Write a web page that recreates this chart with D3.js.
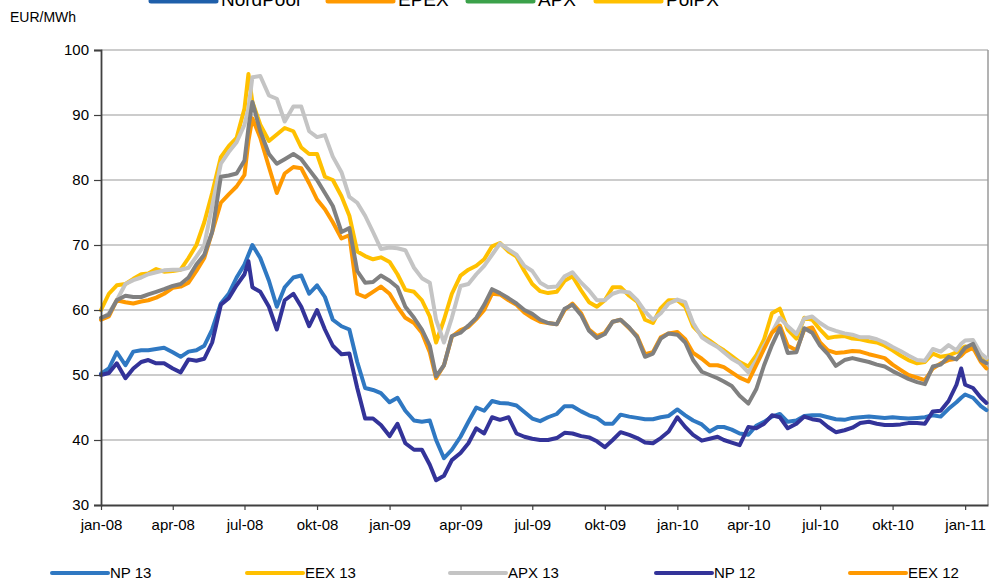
<!DOCTYPE html>
<html>
<head>
<meta charset="utf-8">
<script src="https://cdn.jsdelivr.net/npm/d3@7/dist/d3.min.js"></script>
<style>
  html, body { margin: 0; padding: 0; background: #fff; }
  svg { display: block; }
  text { font-family: "Liberation Sans", Arial, sans-serif; fill: #000; }
</style>
</head>
<body>
<svg id="chart" width="993" height="581"></svg>
<script>
// ---------- DATA ----------
const dates = [
"2008-01-01","2008-01-11","2008-01-21","2008-02-01","2008-02-11","2008-02-21","2008-03-01","2008-03-11","2008-03-21",
"2008-04-01","2008-04-11","2008-04-21","2008-05-01","2008-05-11","2008-05-21","2008-06-01","2008-06-11","2008-06-21",
"2008-07-01","2008-07-06","2008-07-11","2008-07-21","2008-08-01","2008-08-11","2008-08-21","2008-09-01","2008-09-11","2008-09-21",
"2008-10-01","2008-10-11","2008-10-21","2008-11-01","2008-11-11","2008-11-21","2008-12-01","2008-12-11","2008-12-21",
"2009-01-01","2009-01-11","2009-01-21","2009-02-01","2009-02-11","2009-02-21","2009-03-01","2009-03-11","2009-03-21",
"2009-04-01","2009-04-11","2009-04-21","2009-05-01","2009-05-11","2009-05-21","2009-06-01","2009-06-11","2009-06-21",
"2009-07-01","2009-07-11","2009-07-21","2009-08-01","2009-08-11","2009-08-21","2009-09-01","2009-09-11","2009-09-21",
"2009-10-01","2009-10-11","2009-10-21","2009-11-01","2009-11-11","2009-11-21","2009-12-01","2009-12-11","2009-12-21",
"2010-01-01","2010-01-11","2010-01-21","2010-02-01","2010-02-11","2010-02-21","2010-03-01","2010-03-11","2010-03-21",
"2010-04-01","2010-04-11","2010-04-21","2010-05-01","2010-05-11","2010-05-21","2010-06-01","2010-06-11","2010-06-21",
"2010-07-01","2010-07-11","2010-07-21","2010-08-01","2010-08-11","2010-08-21","2010-09-01","2010-09-11","2010-09-21",
"2010-10-01","2010-10-11","2010-10-21","2010-11-01","2010-11-11","2010-11-21","2010-12-01","2010-12-11","2010-12-21",
"2010-12-27","2011-01-01","2011-01-11","2011-01-21","2011-01-28"
];

const np13 = [
50.2,51.0,53.5,51.5,53.6,53.8,53.8,54.0,54.2,
53.5,52.8,53.6,53.8,54.5,57.0,61.0,62.5,65.0,
67.0,68.5,70.0,68.0,64.5,60.5,63.5,65.0,65.3,62.5,
63.8,62.0,58.5,57.5,57.0,52.0,48.0,47.7,47.2,
45.8,46.5,44.5,43.0,42.8,43.0,40.0,37.2,38.5,
40.5,42.8,45.0,44.5,46.0,45.7,45.6,45.3,44.3,
43.3,42.9,43.5,44.0,45.2,45.2,44.4,43.8,43.4,
42.5,42.5,43.9,43.6,43.4,43.2,43.2,43.5,43.7,
44.7,43.8,43.0,42.4,41.3,42.0,42.0,41.6,41.0,
40.8,42.2,42.8,43.6,44.0,42.8,43.0,43.7,43.8,
43.8,43.5,43.2,43.1,43.4,43.5,43.6,43.5,43.4,
43.5,43.4,43.3,43.4,43.5,43.8,43.6,44.8,45.8,
46.5,47.0,46.5,45.2,44.6
];

const eex13 = [
60.0,62.5,63.8,64.0,64.8,65.5,65.6,66.3,65.9,
66.0,66.2,68.0,70.0,73.5,78.0,83.5,85.2,86.5,
91.0,96.3,92.0,88.5,86.0,87.0,88.0,87.5,85.0,84.0,
84.0,80.5,80.0,77.5,74.5,69.0,68.3,67.8,68.1,
67.4,65.5,63.1,62.8,61.5,59.0,55.0,58.5,62.5,
65.3,66.2,66.8,67.8,69.8,70.3,69.0,68.2,66.0,
64.0,62.9,62.6,62.8,64.5,65.2,63.0,61.2,60.5,
61.5,63.5,63.5,62.2,61.3,58.5,58.0,60.3,61.5,
61.5,60.5,57.5,56.1,55.3,54.4,53.8,52.9,52.0,
51.3,53.0,55.5,59.5,60.2,57.0,55.6,58.8,58.5,
57.0,55.7,55.9,56.0,55.6,55.5,55.2,55.0,54.5,
53.8,53.0,52.3,51.8,52.0,53.3,52.8,53.0,53.5,
54.0,54.4,54.0,53.2,52.3
];

const apx13 = [
58.5,59.5,61.5,64.0,64.6,65.0,65.5,65.8,66.1,
66.2,66.2,66.5,68.2,70.0,76.0,82.5,84.3,85.8,
88.5,91.0,95.8,96.0,93.0,92.5,89.0,91.3,91.3,87.5,
86.6,86.9,83.6,81.2,77.4,76.5,74.5,72.0,69.4,
69.6,69.5,69.2,66.5,64.9,64.2,58.5,55.0,58.8,
63.7,64.0,65.5,66.8,68.5,70.2,69.3,68.5,66.8,
66.0,64.2,63.5,63.6,65.2,65.8,64.2,63.0,61.5,
61.5,62.5,62.9,62.7,61.5,59.8,58.5,59.5,61.0,
61.6,61.2,58.0,55.8,55.0,54.3,53.5,52.5,51.8,
50.4,52.2,54.5,56.5,58.8,57.5,56.3,58.7,59.0,
58.0,57.2,56.8,56.4,56.2,55.8,55.8,55.5,55.0,
54.3,53.7,53.0,52.3,52.2,54.0,53.6,54.6,53.8,
54.8,55.3,55.4,53.3,52.6
];

const np12 = [
50.0,50.3,51.8,49.5,51.0,52.0,52.3,51.8,51.8,
51.0,50.4,52.4,52.2,52.5,55.0,60.8,61.8,63.8,
65.5,67.5,63.5,62.8,60.5,57.0,61.5,62.5,60.5,57.5,
60.0,57.0,54.5,53.2,53.3,48.0,43.3,43.3,42.3,
40.6,42.5,39.5,38.5,38.5,36.2,33.8,34.5,36.9,
38.0,39.5,41.8,41.0,43.5,43.1,43.5,41.0,40.5,
40.2,40.0,40.0,40.3,41.1,41.0,40.6,40.4,39.8,
38.9,40.0,41.2,40.8,40.3,39.6,39.5,40.3,41.3,
43.5,42.0,40.8,39.9,40.2,40.5,40.0,39.6,39.2,
42.0,41.8,42.5,43.8,43.5,41.8,42.5,43.6,43.2,
43.0,42.0,41.2,41.5,41.9,42.6,42.8,42.5,42.3,
42.3,42.4,42.6,42.6,42.5,44.4,44.5,46.0,48.5,
51.0,48.5,48.0,46.5,45.7
];

const eex12 = [
58.5,59.0,61.5,61.2,61.0,61.3,61.5,61.9,62.5,
63.4,63.6,64.2,66.0,68.0,72.0,76.5,77.8,79.0,
80.8,86.0,89.5,86.5,82.0,78.0,81.0,82.0,81.8,79.5,
77.0,75.5,73.5,71.0,71.5,62.5,62.0,62.8,63.6,
62.5,60.5,58.8,58.0,56.5,53.5,49.5,51.5,55.9,
56.9,57.4,58.6,60.0,62.5,62.4,61.5,60.8,59.6,
58.8,58.2,58.0,57.8,60.0,61.0,59.5,57.0,56.0,
56.5,58.2,58.5,57.2,56.0,53.2,53.5,55.8,56.4,
56.6,55.5,53.4,52.5,51.5,51.5,51.2,50.4,49.6,
49.0,51.5,54.0,56.5,57.6,54.5,53.8,57.0,57.3,
55.0,53.8,53.4,53.5,53.7,53.6,53.2,52.9,52.6,
51.6,50.8,50.0,49.6,49.2,51.0,51.8,52.3,52.5,
53.0,53.6,54.2,52.0,51.0
];

const apx12 = [
58.8,59.3,61.5,62.2,62.0,62.0,62.4,62.8,63.2,
63.7,64.0,65.0,67.0,68.5,72.0,80.5,80.7,81.0,
83.0,88.0,92.0,87.5,84.0,82.5,83.2,84.0,83.2,81.6,
80.0,78.0,76.0,72.0,72.6,66.0,64.2,64.3,65.3,
64.5,63.5,60.5,58.8,57.0,54.5,49.8,51.5,56.0,
56.5,57.6,58.8,60.8,63.2,62.6,61.8,61.0,60.0,
59.4,58.5,58.0,57.8,60.2,60.8,59.2,56.8,55.7,
56.3,58.2,58.5,57.3,55.8,52.8,53.3,55.6,56.4,
56.2,55.0,52.3,50.5,50.0,49.5,49.0,48.3,46.8,
45.6,47.8,51.5,54.6,57.2,53.4,53.5,57.2,56.5,
54.5,53.2,51.4,52.3,52.6,52.3,52.0,51.6,51.3,
50.6,50.0,49.4,48.9,48.6,51.3,51.6,52.8,52.4,
53.4,54.2,54.8,52.3,51.8
];

const seriesNames = ["NP 13","EEX 13","APX 13","NP 12","EEX 12","APX 12"];
const seriesValues = [np13, eex13, apx13, np12, eex12, apx12];
const seriesColors = ["#2F78C2","#FFC000","#C4C4C4","#333399","#FF9900","#808080"];

const topLegendNames = ["NordPool","EPEX","APX","PolPX"];
const topLegendColors = ["#1F5FAA","#FF9900","#3BA14A","#FFC000"];

const xTickDates = ["2008-01-01","2008-04-01","2008-07-01","2008-10-01","2009-01-01","2009-04-01","2009-07-01","2009-10-01",
                    "2010-01-01","2010-04-01","2010-07-01","2010-10-01","2011-01-01"];
const xTickLabels = ["jan-08","apr-08","jul-08","okt-08","jan-09","apr-09","jul-09","okt-09","jan-10","apr-10","jul-10","okt-10","jan-11"];
const yTicks = [30,40,50,60,70,80,90,100];
const yUnit = "EUR/MWh";

// ---------- CHART ----------
const parse = d3.timeParse("%Y-%m-%d");
const svg = d3.select("#chart");
const L = 101, R = 988, T = 50, B = 505;

const x = d3.scaleTime().domain([parse("2008-01-01"), parse("2011-01-30")]).range([L, R]);
const y = d3.scaleLinear().domain([30, 100]).range([B, T]);

// gridlines
svg.append("g").selectAll("line").data(yTicks.filter(v => v > 30)).join("line")
  .attr("x1", L).attr("x2", R).attr("y1", d => y(d)).attr("y2", d => y(d))
  .attr("stroke", "#9a9a9a").attr("stroke-width", 1.2);

// right border
svg.append("line").attr("x1", R).attr("x2", R).attr("y1", T).attr("y2", B)
  .attr("stroke", "#9a9a9a").attr("stroke-width", 1.5);

// lines
const line = d3.line().x((d, i) => x(parse(dates[i]))).y(d => y(d)).curve(d3.curveLinear);
svg.append("g").selectAll("path").data(seriesValues).join("path")
  .attr("d", d => line(d))
  .attr("fill", "none")
  .attr("stroke", (d, i) => seriesColors[i])
  .attr("stroke-width", 4)
  .attr("stroke-linejoin", "round")
  .attr("stroke-linecap", "round");

// y axis
const yAxis = d3.axisLeft(y).tickValues(yTicks).tickSize(7).tickPadding(5);
const gy = svg.append("g").attr("transform", `translate(${L},0)`).call(yAxis);
gy.select(".domain").attr("stroke", "#404040").attr("stroke-width", 1.8);
gy.selectAll(".tick line").attr("stroke", "#404040").attr("stroke-width", 1.2);
gy.selectAll(".tick text").attr("font-size", 15).attr("font-family", "Liberation Sans, Arial, sans-serif").attr("fill", "#000");

// x axis
const xAxis = d3.axisBottom(x).tickValues(xTickDates.map(parse))
  .tickFormat((d, i) => xTickLabels[i]).tickSize(5).tickPadding(9).tickSizeOuter(0);
const gx = svg.append("g").attr("transform", `translate(0,${B})`).call(xAxis);
gx.select(".domain").attr("stroke", "#404040").attr("stroke-width", 1.8);
gx.selectAll(".tick line").attr("stroke", "#404040").attr("stroke-width", 1.2);
gx.selectAll(".tick text").attr("font-size", 15).attr("font-family", "Liberation Sans, Arial, sans-serif").attr("fill", "#000");

// unit label
svg.append("text").attr("x", 10).attr("y", 22).attr("font-size", 14).text(yUnit);

// top legend (partly above the page edge, as in the reference)
const topX = [151, 328, 468, 596];
const tl = svg.append("g").selectAll("g").data(topLegendNames).join("g")
  .attr("transform", (d, i) => `translate(${topX[i]},0)`);
tl.append("line").attr("x1", 0).attr("x2", 65).attr("y1", 1).attr("y2", 1)
  .attr("stroke", (d, i) => topLegendColors[i]).attr("stroke-width", 5).attr("stroke-linecap", "round");
tl.append("text").attr("x", 70).attr("y", 6).attr("font-size", 19).text(d => d);

// bottom legend (the sixth entry lies beyond the right edge in the reference)
const legendNames = seriesNames.slice(0, 5);
const botX = [52, 247, 450, 656, 850];
const bl = svg.append("g").selectAll("g").data(legendNames).join("g")
  .attr("transform", (d, i) => `translate(${botX[i]},573)`);
bl.append("line").attr("x1", 0).attr("x2", 56).attr("y1", 0).attr("y2", 0)
  .attr("stroke", (d, i) => seriesColors[i]).attr("stroke-width", 4).attr("stroke-linecap", "round");
bl.append("text").attr("x", 58).attr("y", 5).attr("font-size", 15).text(d => d);
</script>
</body>
</html>
